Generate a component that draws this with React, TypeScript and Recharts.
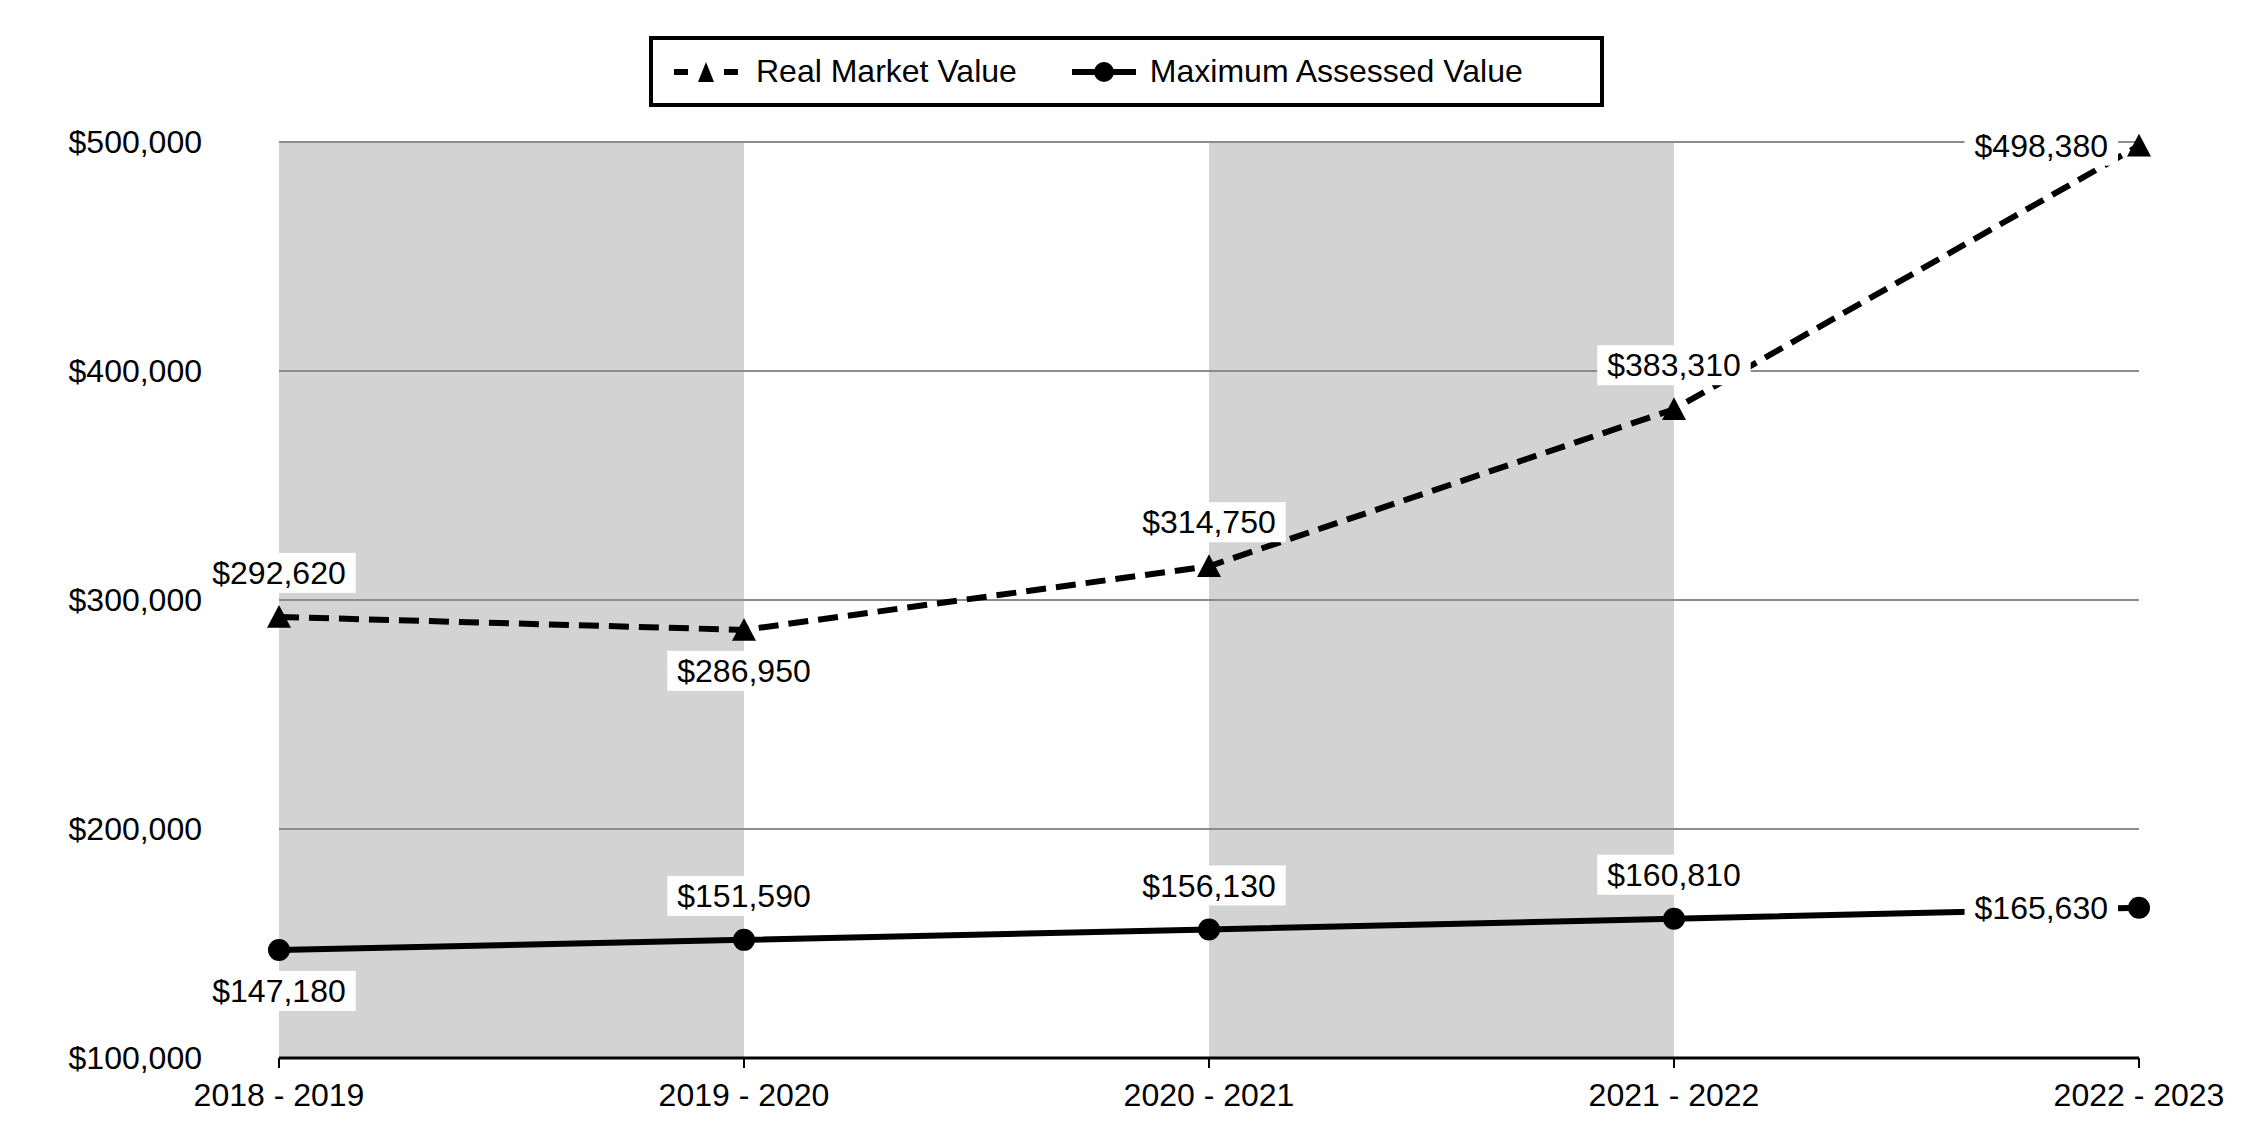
import React from 'react';
import {
  LineChart,
  Line,
  XAxis,
  YAxis,
  ReferenceArea,
  ReferenceLine,
  Legend,
  LabelList,
} from 'recharts';

const periods = ['2018 - 2019', '2019 - 2020', '2020 - 2021', '2021 - 2022', '2022 - 2023'];
const realMarketValue = [292620, 286950, 314750, 383310, 498380];
const maxAssessedValue = [147180, 151590, 156130, 160810, 165630];
const yTicks = [100000, 200000, 300000, 400000, 500000];
const seriesNames = ['Real Market Value', 'Maximum Assessed Value'];
const rmvPlacement = ['top', 'bottom', 'top', 'top', 'left'];
const mavPlacement = ['bottom', 'top', 'top', 'top', 'left'];

const data = periods.map((p, i) => ({
  period: p,
  rmv: realMarketValue[i],
  mav: maxAssessedValue[i],
}));

const FONT = '"Liberation Sans", Arial, sans-serif';
const FS = 32;

const fmt = (v: number) => '$' + v.toLocaleString('en-US');

const textWidth = (s: string) => {
  let w = 0;
  for (const ch of s) {
    w += ch === ',' ? FS * 0.278 : FS * 0.556;
  }
  return w;
};

const makeLabel = (placements: string[]) => (props: any) => {
  const { x, y, value, index } = props;
  const text = fmt(Number(value));
  const tw = textWidth(text);
  const bw = tw + 20;
  const bh = 40;
  const p = placements[index];
  let cx = x;
  let cy = y;
  if (p === 'top') cy = y - 44;
  else if (p === 'bottom') cy = y + 41;
  else if (p === 'left') {
    cx = x - 31 - tw / 2;
    cy = y;
  }
  return (
    <g key={`lbl-${index}`}>
      <rect x={cx - bw / 2} y={cy - bh / 2} width={bw} height={bh} fill="#ffffff" />
      <text
        x={cx}
        y={cy}
        dy="0.35em"
        textAnchor="middle"
        fontFamily={FONT}
        fontSize={FS}
        fill="#000"
      >
        {text}
      </text>
    </g>
  );
};

const TriangleDot = (props: any) => {
  const { cx, cy, index } = props;
  if (cx == null || cy == null) return null;
  const s = 12;
  return (
    <polygon
      key={`tri-${index}`}
      points={`${cx},${cy - s} ${cx - s},${cy + s * 0.9} ${cx + s},${cy + s * 0.9}`}
      fill="#000"
    />
  );
};

const LegendBox = () => (
  <div
    style={{
      boxSizing: 'border-box',
      width: 955,
      height: 71,
      border: '4px solid #000',
      background: '#fff',
      display: 'flex',
      alignItems: 'center',
      paddingLeft: 21,
      fontFamily: FONT,
      fontSize: FS,
      color: '#000',
      whiteSpace: 'nowrap',
    }}
  >
    <svg width={64} height={30} style={{ display: 'block' }}>
      <rect x={0} y={12} width={14} height={6} fill="#000" />
      <polygon points="32,5 24,25 40,25" fill="#000" />
      <rect x={50} y={12} width={14} height={6} fill="#000" />
    </svg>
    <span style={{ marginLeft: 18 }}>{seriesNames[0]}</span>
    <svg width={64} height={30} style={{ display: 'block', marginLeft: 55 }}>
      <rect x={0} y={12} width={64} height={6} fill="#000" />
      <circle cx={32} cy={15} r={10} fill="#000" />
    </svg>
    <span style={{ marginLeft: 14 }}>{seriesNames[1]}</span>
  </div>
);

export default function App() {
  return (
    <div style={{ width: 2240, height: 1130, position: 'relative', background: '#fff' }}>
      <LineChart
        width={2240}
        height={1130}
        data={data}
        margin={{ top: 63, right: 109, bottom: 20, left: 0 }}
      >
        <ReferenceArea
          x1={periods[0]}
          x2={periods[1]}
          y1={100000}
          y2={500000}
          fill="#d3d3d3"
          fillOpacity={1}
          stroke="none"
        />
        <ReferenceArea
          x1={periods[2]}
          x2={periods[3]}
          y1={100000}
          y2={500000}
          fill="#d3d3d3"
          fillOpacity={1}
          stroke="none"
        />
        {yTicks.slice(1).map((t) => (
          <ReferenceLine key={`g-${t}`} y={t} stroke="#8c8c8c" strokeWidth={2} />
        ))}
        <XAxis
          dataKey="period"
          interval={0}
          padding={{ left: 0, right: 0 }}
          height={60}
          tickSize={10}
          tickMargin={15}
          axisLine={{ stroke: '#000', strokeWidth: 3 }}
          tickLine={{ stroke: '#000', strokeWidth: 2 }}
          tick={{ fill: '#000', fontSize: FS, fontFamily: FONT }}
        />
        <YAxis
          width={271}
          domain={[100000, 500000]}
          ticks={yTicks}
          axisLine={false}
          tickLine={false}
          tickSize={0}
          tickMargin={77}
          tickFormatter={(v: number) => fmt(v)}
          tick={{ fill: '#000', fontSize: FS, fontFamily: FONT }}
        />
        <Legend
          verticalAlign="top"
          content={() => <LegendBox />}
          wrapperStyle={{ position: 'absolute', top: 28, left: 641, width: 955, height: 71 }}
        />
        <Line
          type="linear"
          dataKey="mav"
          name={seriesNames[1]}
          stroke="#000"
          strokeWidth={6}
          dot={{ r: 11, fill: '#000', stroke: '#000', strokeWidth: 0 }}
          activeDot={false}
          isAnimationActive={false}
        >
          <LabelList dataKey="mav" content={makeLabel(mavPlacement)} />
        </Line>
        <Line
          type="linear"
          dataKey="rmv"
          name={seriesNames[0]}
          stroke="#000"
          strokeWidth={6}
          strokeDasharray="20 10"
          dot={TriangleDot}
          activeDot={false}
          isAnimationActive={false}
        >
          <LabelList dataKey="rmv" content={makeLabel(rmvPlacement)} />
        </Line>
      </LineChart>
    </div>
  );
}
